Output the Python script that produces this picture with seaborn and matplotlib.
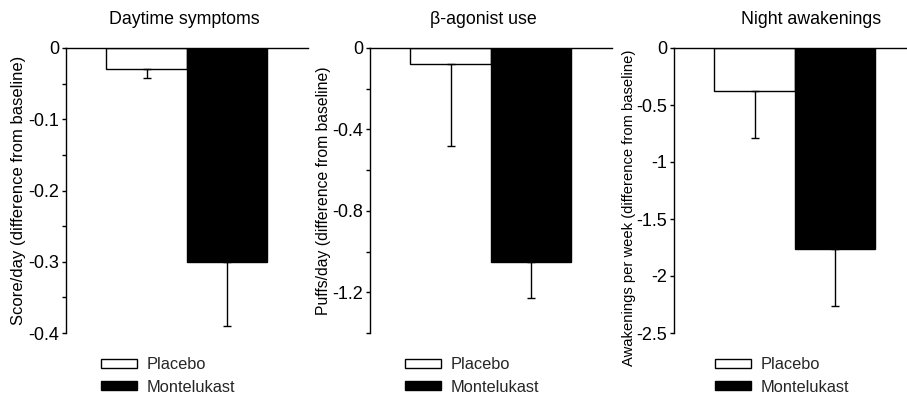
import matplotlib
matplotlib.use("Agg")
import matplotlib.pyplot as plt
from matplotlib.ticker import MultipleLocator, FixedLocator
import numpy as np
import pandas as pd
import seaborn as sns

sns.set_theme(style="white")
plt.rcParams['font.family'] = ['Liberation Sans', 'DejaVu Sans']

groups = ["Placebo", "Montelukast"]
titles = ["Daytime symptoms", "β-agonist use", "Night awakenings"]
ylabels = ["Score/day (difference from baseline)",
           "Puffs/day (difference from baseline)",
           "Awakenings per week (difference from baseline)"]
means_day = [-0.03, -0.30]
means_beta = [-0.08, -1.05]
means_night = [-0.38, -1.76]
errlow_day = [0.012, 0.09]
errlow_beta = [0.40, 0.18]
errlow_night = [0.41, 0.50]
yticks_day = [0, -0.1, -0.2, -0.3, -0.4]
ytick_labels_day = ["0", "-0.1", "-0.2", "-0.3", "-0.4"]
yticks_beta = [0, -0.4, -0.8, -1.2]
ytick_labels_beta = ["0", "-0.4", "-0.8", "-1.2"]
yticks_night = [0, -0.5, -1, -1.5, -2, -2.5]
ytick_labels_night = ["0", "-0.5", "-1", "-1.5", "-2", "-2.5"]

panels = [
    dict(means=means_day, err=errlow_day, ticks=yticks_day, tl=ytick_labels_day,
         ylim=(-0.4, 0), minor=0.05, left=66, width=241.5, xmax=2.0,
         title_x=0.49, label_x=-0.166, label_y=0.5, lfs=12),
    dict(means=means_beta, err=errlow_beta, ticks=yticks_beta, tl=ytick_labels_beta,
         ylim=(-1.4, 0), minor=0.2, left=370, width=241.5, xmax=2.0,
         title_x=0.468, label_x=-0.161, label_y=0.5, lfs=11.3),
    dict(means=means_night, err=errlow_night, ticks=yticks_night, tl=ytick_labels_night,
         ylim=(-2.5, 0), minor=None, left=674, width=233, xmax=1.894,
         title_x=0.59, label_x=-0.162, label_y=0.44, lfs=10.6),
]

W, H = 907, 404
fig = plt.figure(figsize=(W / 100, H / 100), dpi=100)
tfs = 12.8
kfs = 13
gfs = 11.8

for i, p in enumerate(panels):
    ax = fig.add_axes([p['left'] / W, 1 - 333 / H, p['width'] / W, 285 / H])
    df = pd.DataFrame({"group": groups, "value": p['means']})
    sns.barplot(data=df, x="group", y="value", hue="group", order=groups,
                hue_order=groups, palette={"Placebo": "white", "Montelukast": "black"},
                edgecolor="black", linewidth=1.0, width=1.0, errorbar=None,
                legend=False, ax=ax)
    ax.errorbar(x=[0, 1], y=p['means'], yerr=[p['err'], [0, 0]], fmt='none',
                ecolor='black', elinewidth=1.0, capsize=3, capthick=1.0, zorder=1)
    ax.set_xlim(-1.0, p['xmax'])
    ax.set_ylim(*p['ylim'])
    ax.set_xticks([])
    ax.set_xlabel("")
    ax.yaxis.set_major_locator(FixedLocator(p['ticks']))
    ax.set_yticklabels(p['tl'], fontsize=kfs, color='black')
    if p['minor']:
        ax.yaxis.set_minor_locator(MultipleLocator(p['minor']))
    ax.tick_params(axis='y', which='both', left=True, direction='out', length=3,
                   width=1.0, color='black', pad=2)
    ax.tick_params(axis='y', which='minor', length=3)
    for s in ['bottom', 'right']:
        ax.spines[s].set_visible(False)
    for s in ['left', 'top']:
        ax.spines[s].set_visible(True)
        ax.spines[s].set_color('black')
        ax.spines[s].set_linewidth(1.0)
    ax.set_ylabel(ylabels[i], fontsize=p['lfs'], color='black')
    ax.yaxis.set_label_coords(p['label_x'], p['label_y'])
    ax.text(p['title_x'], 1.085, titles[i], transform=ax.transAxes, ha='center',
            va='baseline', fontsize=tfs, color='black')
    bars = ax.patches[:2]
    leg = ax.legend(handles=bars, labels=groups, loc='upper left',
                    bbox_to_anchor=((35 if i < 2 else 41) / p['width'], -0.085),
                    frameon=False, fontsize=gfs, borderpad=0, borderaxespad=0,
                    handlelength=2.2, handleheight=0.5, handletextpad=0.6,
                    labelspacing=0.45)
    ax.set_facecolor('white')

fig.savefig("out.png", dpi=100, facecolor='white')
